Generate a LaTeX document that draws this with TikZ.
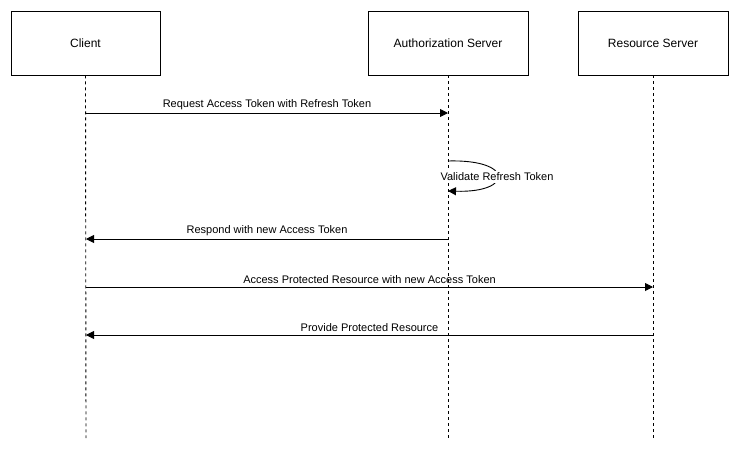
\documentclass[tikz,border=0pt]{standalone}
\usepackage{fontspec}
\setmainfont{Liberation Sans}
\usetikzlibrary{arrows.meta}
\begin{document}
\begin{tikzpicture}[x=1pt,y=-1pt,
  actor/.style={draw,line width=0.9pt,minimum width=149pt,minimum height=64pt,inner sep=0pt,font=\fontsize{12}{14}\selectfont},
  life/.style={line width=0.9pt,dash pattern=on 3pt off 3pt},
  msg/.style={line width=0.9pt,-{Triangle[length=8pt,width=8pt]}},
  lbl/.style={font=\fontsize{11}{13}\selectfont,inner sep=1pt}]
\useasboundingbox (0,0) rectangle (739,451);
\node[actor] (client) at (85.5,43) {Client};
\node[actor,minimum width=160pt] (auth) at (448,43) {Authorization Server};
\node[actor,minimum width=150pt] (res) at (653,43) {Resource Server};
\coordinate (ce) at (86,438);
\coordinate (ae) at (448,438);
\coordinate (re) at (653,438);
\draw[life] (client.south) -- (ce);
\draw[life] (auth.south) -- (ae);
\draw[life] (res.south) -- (re);
% messages
\coordinate (c1) at (86,113); \coordinate (a1) at (448,113);
\draw[msg] (c1) -- node[lbl,above=2pt] {Request Access Token with Refresh Token} (a1);
\coordinate (a2) at (448,161); \coordinate (a3) at (448,191);
\draw[msg] (a2) .. controls (514,159) and (514,193) .. (a3);
\node[lbl,fill=white,inner ysep=2pt] (v) at (497,177) {Validate Refresh Token};
\coordinate (a4) at (448,239); \coordinate (c4) at (86,239);
\draw[msg] (a4) -- node[lbl,above=2pt] {Respond with new Access Token} (c4);
\coordinate (c5) at (86,287); \coordinate (r5) at (653,287);
\draw[msg] (c5) -- node[lbl,above=2pt] {Access Protected Resource with new Access Token} (r5);
\coordinate (r6) at (653,335); \coordinate (c6) at (86,335);
\draw[msg] (r6) -- node[lbl,above=2pt] {Provide Protected Resource} (c6);
\end{tikzpicture}
\end{document}
